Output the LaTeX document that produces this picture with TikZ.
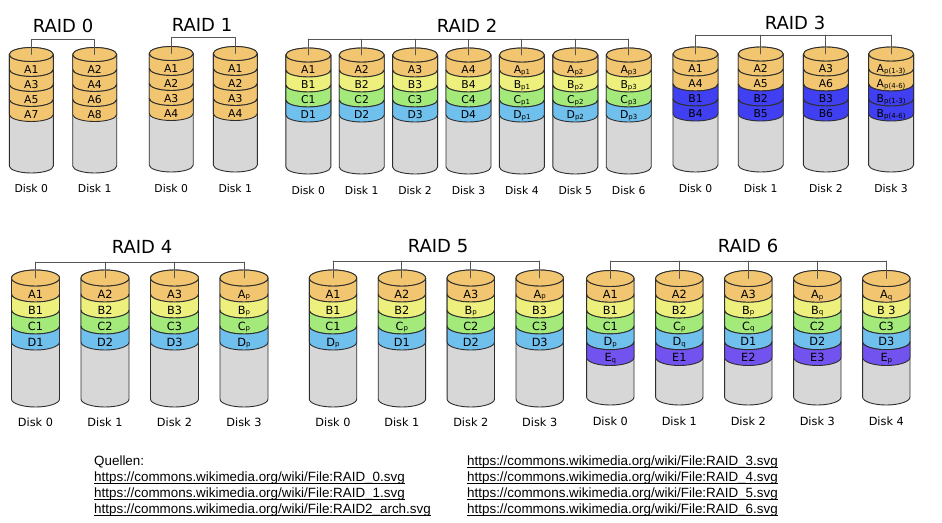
\documentclass[tikz,border=0pt]{standalone}
\usepackage{fontspec}
\setmainfont{DejaVu Sans}
\newfontfamily\quelfont{Liberation Sans}
\usetikzlibrary{calc}

\definecolor{tanA}{HTML}{F2C570}
\definecolor{yelB}{HTML}{EEF07E}
\definecolor{grnC}{HTML}{A3EA7A}
\definecolor{bluD}{HTML}{70C0EE}
\definecolor{bluR}{HTML}{4040F2}
\definecolor{purE}{HTML}{7253F0}
\definecolor{greyB}{HTML}{D7D7D7}
\definecolor{diskline}{HTML}{2E2E2E}
\definecolor{barline}{HTML}{555555}

\tikzset{
  disk/.style={draw=diskline, line width=0.9pt, line join=round},
  bar/.style={draw=barline, line width=0.9pt},
  slabtext/.style={font=\fontsize{\dfs}{\dfs}\selectfont, inner sep=0pt, text height=8pt, text depth=0pt},
  disklabel/.style={font=\fontsize{\dfs}{\dfs}\selectfont, inner sep=0pt, text height=8pt, text depth=0pt},
  title/.style={font=\fontsize{18}{18}\selectfont, inner sep=0pt, text height=13pt, text depth=0pt},
  quelle/.style={font=\quelfont\fontsize{13.4}{16}\selectfont, inner sep=0pt, anchor=base west},
  uline/.style={draw=black, line width=0.9pt, line cap=butt}
}

% radius x, radius y, slab height, top, bottom, caption y, font size
\newcommand{\diskset}[7]{\def\drx{#1}\def\dry{#2}\def\dslab{#3}\def\dtop{#4}\def\dbot{#5}\def\dlab{#6}\def\dfs{#7}}
\newcommand{\psub}[1]{\raisebox{-0.6pt}{\fontsize{7}{7}\selectfont #1}}

% name, centre x, slabs (colour/text), disk number
\newcommand{\disk}[4]{%
  \filldraw[disk, fill=greyB] ({#2-\drx},{-\dtop}) -- ({#2-\drx},{-\dbot})
    arc[start angle=180, end angle=360, x radius=\drx, y radius=\dry]
    -- ({#2+\drx},{-\dtop})
    arc[start angle=0, end angle=180, x radius=\drx, y radius=\dry] -- cycle;
  \foreach \c/\t [count=\i] in {#3} {
    \pgfmathsetmacro{\yk}{\dtop+(\i-1)*\dslab}
    \filldraw[disk, fill=\c] ({#2-\drx},{-\yk}) -- ({#2-\drx},{-\yk-\dslab})
      arc[start angle=180, end angle=360, x radius=\drx, y radius=\dry]
      -- ({#2+\drx},{-\yk})
      arc[start angle=360, end angle=180, x radius=\drx, y radius=\dry] -- cycle;
    \ifnum\i=1
      \filldraw[disk, fill=\c] (#2,-\dtop) ellipse[x radius=\drx, y radius=\dry];
    \fi
    \node[slabtext] (#1s\i) at (#2,{-\yk-\dry-0.5*\dslab}) {\t};
  }
  \coordinate (#1) at (#2,-\dtop);
  \node[disklabel] (#1l) at (#2,-\dlab) {Disk #4};
}

\begin{document}
\begin{tikzpicture}[x=1pt, y=1pt, line join=round, line cap=round]
  \useasboundingbox (0,0) rectangle (942,-522);

  % RAID 0
  \diskset{22}{7}{15}{54.5}{166}{188}{10.8}
  \disk{r0d0}{31.3}{tanA/A1,tanA/A3,tanA/A5,tanA/A7}{0}
  \disk{r0d1}{94.7}{tanA/A2,tanA/A4,tanA/A6,tanA/A8}{1}
  \coordinate (r0bar) at (0,-39);
  \draw[bar] (r0d0) |- (r0d1 |- r0bar) -- (r0d1);
  \node[title] (r0t) at (63,-26) {RAID 0};

  % RAID 1
  \diskset{22}{7}{15}{53.5}{165}{188}{10.8}
  \foreach \n/\cx in {0/171.2, 1/235.3}
    \disk{r1d\n}{\cx}{tanA/A1,tanA/A2,tanA/A3,tanA/A4}{\n}
  \coordinate (r1bar) at (0,-37);
  \draw[bar] (r1d0) |- (r1d1 |- r1bar) -- (r1d1);
  \node[title] (r1t) at (202,-25) {RAID 1};

  % RAID 2
  \diskset{22.5}{7}{15}{55}{167}{190}{10.8}
  \foreach \n [count=\k] in {0,...,3} {
    \pgfmathsetmacro{\cx}{308.3+53.4*\n}
    \disk{r2d\n}{\cx}{tanA/A\k,yelB/B\k,grnC/C\k,bluD/D\k}{\n}
  }
  \foreach \n [count=\k] in {4,5,6} {
    \pgfmathsetmacro{\cx}{308.3+53.4*\n}
    \disk{r2d\n}{\cx}{tanA/A\psub{p\k},yelB/B\psub{p\k},grnC/C\psub{p\k},bluD/D\psub{p\k}}{\n}
  }
  \coordinate (r2bar) at (0,-39);
  \draw[bar] (r2d0 |- r2bar) -- (r2d6 |- r2bar);
  \foreach \n in {0,...,6}
    \draw[bar] (r2d\n |- r2bar) -- (r2d\n);
  \node[title] (r2t) at (467,-26) {RAID 2};

  % RAID 3
  \diskset{22.5}{7}{15}{54}{165}{188}{10.8}
  \foreach \n [count=\k] in {0,1,2} {
    \pgfmathtruncatemacro{\m}{\k+3}
    \pgfmathsetmacro{\cx}{695.5+65.2*\n}
    \disk{r3d\n}{\cx}{tanA/A\k,tanA/A\m,bluR/B\k,bluR/B\m}{\n}
  }
  \disk{r3d3}{891.1}{tanA/A\psub{p(1-3)},tanA/A\psub{p(4-6)},bluR/B\psub{p(1-3)},bluR/B\psub{p(4-6)}}{3}
  \coordinate (r3bar) at (0,-35);
  \draw[bar] (r3d0 |- r3bar) -- (r3d3 |- r3bar);
  \foreach \n in {0,...,3}
    \draw[bar] (r3d\n |- r3bar) -- (r3d\n);
  \node[title] (r3t) at (795,-23) {RAID 3};

  % RAID 4
  \diskset{24}{8}{16}{278}{399}{422}{11.3}
  \foreach \n [count=\k] in {0,1,2} {
    \pgfmathsetmacro{\cx}{35.5+69.5*\n}
    \disk{r4d\n}{\cx}{tanA/A\k,yelB/B\k,grnC/C\k,bluD/D\k}{\n}
  }
  \disk{r4d3}{244}{tanA/A\psub{p},yelB/B\psub{p},grnC/C\psub{p},bluD/D\psub{p}}{3}
  \coordinate (r4bar) at (0,-262);
  \draw[bar] (r4d0 |- r4bar) -- (r4d3 |- r4bar);
  \foreach \n in {0,...,3}
    \draw[bar] (r4d\n |- r4bar) -- (r4d\n);
  \node[title] (r4t) at (142,-247) {RAID 4};

  % RAID 5
  \diskset{23.7}{8}{16}{278}{399}{422}{11.3}
  \disk{r5d0}{333}{tanA/A1,yelB/B1,grnC/C1,bluD/D\psub{p}}{0}
  \disk{r5d1}{401.9}{tanA/A2,yelB/B2,grnC/C\psub{p},bluD/D1}{1}
  \disk{r5d2}{470.8}{tanA/A3,yelB/B\psub{p},grnC/C2,bluD/D2}{2}
  \disk{r5d3}{539.7}{tanA/A\psub{p},yelB/B3,grnC/C3,bluD/D3}{3}
  \coordinate (r5bar) at (0,-261);
  \draw[bar] (r5d0 |- r5bar) -- (r5d3 |- r5bar);
  \foreach \n in {0,...,3}
    \draw[bar] (r5d\n |- r5bar) -- (r5d\n);
  \node[title] (r5t) at (438,-246) {RAID 5};

  % RAID 6
  \diskset{23.7}{8}{15.8}{278.5}{397}{421}{11.3}
  \disk{r6d0}{610.3}{tanA/A1,yelB/B1,grnC/C1,bluD/D\psub{p},purE/E\psub{q}}{0}
  \disk{r6d1}{679.3}{tanA/A2,yelB/B2,grnC/C\psub{p},bluD/D\psub{q},purE/E1}{1}
  \disk{r6d2}{748.3}{tanA/A3,yelB/B\psub{p},grnC/C\psub{q},bluD/D1,purE/E2}{2}
  \disk{r6d3}{817.3}{tanA/A\psub{p},yelB/B\psub{q},grnC/C2,bluD/D2,purE/E3}{3}
  \disk{r6d4}{886.3}{tanA/A\psub{q},yelB/B 3,grnC/C3,bluD/D3,purE/E\psub{p}}{4}
  \coordinate (r6bar) at (0,-261);
  \draw[bar] (r6d0 |- r6bar) -- (r6d4 |- r6bar);
  \foreach \n in {0,...,4}
    \draw[bar] (r6d\n |- r6bar) -- (r6d\n);
  \node[title] (r6t) at (748,-246) {RAID 6};

  % Quellen
  \node[quelle] (q0) at (94,-465.5) {Quellen:};
  \foreach \f [count=\i] in {RAID\_0,RAID\_1,RAID2\_arch} {
    \node[quelle] (ql\i) at (94,{-465.5-15.9*\i}) {https://commons.wikimedia.org/wiki/File:\f.svg};
    \draw[uline] ([yshift=-2pt]ql\i.base west) -- ([yshift=-2pt]ql\i.base east);
  }
  \foreach \f [count=\i from 0] in {3,4,5,6} {
    \node[quelle] (qr\f) at (467,{-465.5-15.9*\i}) {https://commons.wikimedia.org/wiki/File:RAID\_\f.svg};
    \draw[uline] ([yshift=-2pt]qr\f.base west) -- ([yshift=-2pt]qr\f.base east);
  }
\end{tikzpicture}
\end{document}
